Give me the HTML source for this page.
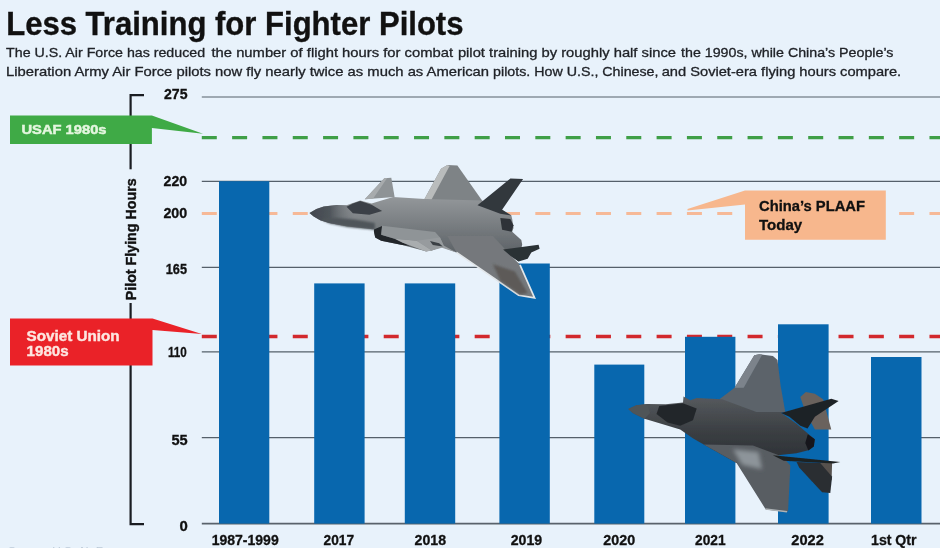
<!DOCTYPE html>
<html><head><meta charset="utf-8"><title>Less Training for Fighter Pilots</title>
<style>
html,body{margin:0;padding:0;background:#e8f2fb;}
body{width:940px;height:548px;overflow:hidden;position:relative;font-family:"Liberation Sans",sans-serif;}
svg{position:absolute;left:0;top:0;display:block}
text{font-family:"Liberation Sans",sans-serif;}
.b{font-weight:bold}
</style></head><body>
<svg width="940" height="548" viewBox="0 0 940 548">
<defs><filter id="soft" x="-5%" y="-5%" width="110%" height="110%"><feGaussianBlur stdDeviation="0.6"/></filter><filter id="soft3" x="-10%" y="-30%" width="120%" height="160%"><feGaussianBlur stdDeviation="0.9"/></filter><filter id="soft2" x="-30%" y="-30%" width="160%" height="160%"><feGaussianBlur stdDeviation="2"/></filter></defs>
<rect width="940" height="548" fill="#e8f2fb"/>
<!-- title -->
<text x="6.2" y="34.6" class="b" font-size="32.5" fill="#111" stroke="#111" stroke-width="0.35" textLength="457.3" lengthAdjust="spacingAndGlyphs">Less Training for Fighter Pilots</text>
<g font-size="13.4" fill="#202328" stroke="#202328" stroke-width="0.3">
<text x="6.1" y="57.2" textLength="199" lengthAdjust="spacingAndGlyphs">The U.S. Air Force has reduced</text>
<text x="211.5" y="57.2" textLength="241.5" lengthAdjust="spacingAndGlyphs">the number of flight hours for combat</text>
<text x="457.9" y="57.2" textLength="218.1" lengthAdjust="spacingAndGlyphs">pilot training by roughly half since</text>
<text x="681.0" y="57.2" textLength="212.5" lengthAdjust="spacingAndGlyphs">the 1990s, while China’s People’s</text>
<text x="6.1" y="76.4" textLength="483" lengthAdjust="spacingAndGlyphs">Liberation Army Air Force pilots now fly nearly twice as much as American</text>
<text x="493.1" y="76.4" textLength="165.4" lengthAdjust="spacingAndGlyphs">pilots. How U.S., Chinese,</text>
<text x="661.7" y="76.4" textLength="239.5" lengthAdjust="spacingAndGlyphs">and Soviet-era flying hours compare.</text>
</g>

<!-- gridlines -->
<g stroke="#55606a" stroke-width="1.2">
<line x1="201.8" y1="97" x2="940" y2="97"/>
<line x1="201.8" y1="181.3" x2="940" y2="181.3"/>
<line x1="201.8" y1="267.3" x2="940" y2="267.3"/>
<line x1="201.8" y1="351.9" x2="940" y2="351.9"/>
<line x1="201.8" y1="437.6" x2="940" y2="437.6"/>
</g>
<line x1="201.8" y1="523.6" x2="940" y2="523.6" stroke="#59626b" stroke-width="1.8"/>
<!-- y labels -->
<g class="b" font-size="14" fill="#111" stroke="#111" stroke-width="0.3">
<text x="164" y="99.4" textLength="23.5" lengthAdjust="spacingAndGlyphs">275</text>
<text x="163.6" y="186.2" textLength="23.5" lengthAdjust="spacingAndGlyphs">220</text>
<text x="163.4" y="218.2" textLength="23.8" lengthAdjust="spacingAndGlyphs">200</text>
<text x="165.8" y="274.4" textLength="21.2" lengthAdjust="spacingAndGlyphs">165</text>
<text x="167.9" y="357.2" textLength="18.8" lengthAdjust="spacingAndGlyphs">110</text>
<text x="171.5" y="445" textLength="16.2" lengthAdjust="spacingAndGlyphs">55</text>
<text x="179.5" y="530.5" textLength="8.3" lengthAdjust="spacingAndGlyphs">0</text>
</g>
<!-- orange + red dashed (behind bars) -->
<line x1="201.8" y1="213.5" x2="940" y2="213.5" stroke="#f6b997" stroke-width="3.2" stroke-dasharray="15 15.32"/>
<line x1="201.8" y1="336.5" x2="940" y2="336.5" stroke="#d2292d" stroke-width="3.6" stroke-dasharray="15 15.32"/>
<!-- bars -->
<g fill="#0867ae">
<rect x="219" y="181.2" width="50.3" height="342.4"/>
<rect x="314.2" y="283.4" width="50.4" height="240.2"/>
<rect x="404.8" y="283.4" width="50.4" height="240.2"/>
<rect x="499.4" y="263.5" width="50.4" height="260.1"/>
<rect x="594.3" y="364.6" width="50" height="159.0"/>
<rect x="685" y="336.8" width="50.4" height="186.8"/>
<rect x="778" y="324.3" width="50.6" height="199.3"/>
<rect x="871" y="357" width="50.5" height="166.6"/>
</g>
<!-- green dashed -->
<line x1="201.8" y1="137.6" x2="940" y2="137.6" stroke="#3f9f47" stroke-width="3.4" stroke-dasharray="15 15.32"/>
<!-- axis bracket -->
<path d="M144 95.2 H130.6 V524.2 H144" fill="none" stroke="#1a1d22" stroke-width="2.2"/>
<rect x="120" y="169.3" width="24" height="133.7" fill="#e8f2fb"/>
<text transform="translate(135.8,300.3) rotate(-90)" class="b" font-size="14" fill="#111" stroke="#111" stroke-width="0.4" textLength="122" lengthAdjust="spacingAndGlyphs">Pilot Flying Hours</text>
<!-- green label -->
<path d="M10 115.5 H151.9 L203 133.7 L151.9 128 V143.9 H10 Z" fill="#3faa46"/>
<text x="21.5" y="134" class="b" font-size="13.5" fill="#e4f6df" stroke="#e4f6df" stroke-width="0.5" textLength="85" lengthAdjust="spacingAndGlyphs">USAF 1980s</text>
<!-- red label -->
<path d="M10 318.5 H152.5 L201.8 333.9 L152.5 330 V365.6 H10 Z" fill="#ea2228"/>
<text x="26.6" y="340.5" class="b" font-size="14.2" fill="#fde6e0" stroke="#fde6e0" stroke-width="0.4" textLength="93" lengthAdjust="spacingAndGlyphs">Soviet Union</text>
<text x="26.6" y="355.6" class="b" font-size="14.2" fill="#fde6e0" stroke="#fde6e0" stroke-width="0.4" textLength="42" lengthAdjust="spacingAndGlyphs">1980s</text>
<!-- orange label -->
<path d="M745 190.5 H885.8 V239.8 H745 V204.6 L687.5 210.4 V209 Z" fill="#f7b78d"/>
<text x="759" y="211.2" class="b" font-size="14.5" fill="#111" stroke="#111" stroke-width="0.3" textLength="106" lengthAdjust="spacingAndGlyphs">China’s PLAAF</text>
<text x="759" y="230" class="b" font-size="14.5" fill="#111" stroke="#111" stroke-width="0.3" textLength="43.2" lengthAdjust="spacingAndGlyphs">Today</text>
<!-- x labels -->
<g class="b" font-size="14" fill="#111" stroke="#111" stroke-width="0.3" text-anchor="middle">
<text x="245.2" y="545.2" textLength="67" lengthAdjust="spacingAndGlyphs">1987-1999</text>
<text x="338.8" y="545.2" textLength="30.5" lengthAdjust="spacingAndGlyphs">2017</text>
<text x="430.3" y="545.2" textLength="31.5" lengthAdjust="spacingAndGlyphs">2018</text>
<text x="526.4" y="545.2" textLength="31.5" lengthAdjust="spacingAndGlyphs">2019</text>
<text x="619.2" y="545.2" textLength="31.8" lengthAdjust="spacingAndGlyphs">2020</text>
<text x="710.3" y="545.2" textLength="30.5" lengthAdjust="spacingAndGlyphs">2021</text>
<text x="807.6" y="545.2" textLength="32.5" lengthAdjust="spacingAndGlyphs">2022</text>
<text x="893.8" y="545.2" textLength="45.5" lengthAdjust="spacingAndGlyphs">1st Qtr</text>
</g>
<text x="8" y="555" font-size="11" fill="#bccad8" textLength="118" lengthAdjust="spacingAndGlyphs">Source: U.S. Air Force</text>
<!-- planes -->
<g filter="url(#soft)">
<defs><linearGradient id="jb" x1="0" y1="0" x2="0" y2="1"><stop offset="0" stop-color="#93979a"/><stop offset="0.55" stop-color="#71767a"/><stop offset="1" stop-color="#555a5f"/></linearGradient><linearGradient id="jn" x1="0" y1="0" x2="1" y2="0"><stop offset="0" stop-color="#40464d"/><stop offset="0.45" stop-color="#4f555b"/><stop offset="1" stop-color="#6f7478" stop-opacity="0"/></linearGradient><linearGradient id="fb" x1="0" y1="0" x2="0" y2="1"><stop offset="0" stop-color="#565a5e"/><stop offset="0.5" stop-color="#3c4044"/><stop offset="1" stop-color="#2c2f33"/></linearGradient></defs>
<polygon points="364.8,199.2 384.3,178.3 391.3,177.7 394.6,197.1" fill="#8e9396" />
<polygon points="364.8,199.2 384.3,178.3 387.2,178.1 373.0,198.7" fill="#a7abad" />
<polygon points="424.6,198.8 441.0,168.7 447.4,165.0 457.4,165.6 482.1,200.6 474.8,207.9 424.6,207.9" fill="#7e8386" />
<polygon points="424.6,198.8 441.0,168.7 447.4,165.0 449.6,166.0 431.3,199.9" fill="#b9bcbc" />
<polygon points="309.5,212.9 316.4,208.9 323.7,206.5 336.5,205.1 346.5,205.3 352.9,203.1 360.2,200.5 371.6,203.4 393.1,197.1 424.7,198.9 482.1,200.6 502.1,209.8 511.3,215.2 512.2,218.9 513.5,228.0 512.2,231.7 521.3,239.9 522.2,244.4 518.6,261.5 511.3,256.0 456.5,252.4 441.9,246.9 431.4,250.4 425.9,251.3 402.2,244.9 381.2,240.7 375.2,237.6 373.9,231.6 374.8,229.4 347.5,226.6 329.2,223.0 320.1,220.2 313.7,216.6" fill="url(#jb)" />
<polygon points="309.5,212.9 316.4,208.9 323.7,206.5 336.5,205.1 346.5,205.3 354.8,214.8 347.5,226.6 329.2,223.0 320.1,220.2 313.7,216.6" fill="url(#jn)" />
<polygon points="320.1,218.8 336.5,218.0 354.8,219.5 374.8,223.0 374.8,229.7 347.5,227.0 329.2,223.3" fill="#4f555a" filter="url(#soft3)"/>
<polygon points="346.5,206.7 352.9,203.4 360.2,201.1 371.6,204.7 382.1,211.1 369.4,214.8 352.9,213.3" fill="#3b4046" />
<polygon points="477.5,205.2 510.4,178.4 523.1,179.1 502.1,209.8 511.3,215.6 500.3,213.8" fill="#33383e" />
<polygon points="373.9,229.4 382.1,226.1 381.2,234.8 394.9,238.9 409.5,245.8 402.2,245.1 381.2,240.7 375.2,237.6 373.9,231.6" fill="#22262b" />
<polygon points="382.1,225.7 435.1,232.1 440.0,237.6 443.7,245.4 431.8,250.4 425.9,251.4 416.8,240.7 394.9,238.7 381.2,234.8" fill="#8f9497" />
<polygon points="394.9,238.7 416.8,240.7 431.8,250.4 425.9,251.4 402.2,242.5" fill="#a9adaf" />
<polygon points="416.8,240.7 440.0,237.6 443.7,245.4 456.5,252.4 441.9,247.8 431.8,250.4" fill="#979b9e" />
<polygon points="430.0,241.1 439.2,243.3 442.8,246.5 432.8,245.1" fill="#3a3f44" />
<polygon points="456.5,252.4 518.6,295.3 534.1,297.6 519.5,264.2 511.3,256.0 493.0,236.0 447.4,236.0" fill="#74787b" />
<polyline points="456.5,252.4 518.6,295.3 534.6,297.8 520.0,264.8" fill="none" stroke="#e2e6e9" stroke-width="1.7"/>
<polygon points="493.0,264.2 514.9,271.5 527.7,292.9 520.0,294.4 500.3,280.7" fill="#5d5a58" filter="url(#soft3)"/>
<polygon points="500.3,218.0 510.4,218.9 513.5,225.3 511.6,231.7 502.1,229.8" fill="#2f3338" />
<polygon points="503.1,249.6 538.6,244.7 539.6,248.7 531.3,252.4 527.7,258.8 518.6,261.5 511.3,256.4" fill="#2b3035" />
<polygon points="800.3,396.9 805.8,392.0 814.9,393.8 823.1,399.3 831.3,429.4 814.9,429.4 805.8,413.0" fill="#6a625d" />
<polygon points="720.0,398.8 734.6,387.8 754.3,355.3 759.2,354.2 772.9,356.1 777.5,360.1 780.6,385.6 785.3,412.1 756.5,413.0 720.0,409.4" fill="#5b636b" />
<polygon points="734.6,387.8 754.3,355.3 759.2,354.2 762.3,354.6 743.7,387.8" fill="#7b838b" />
<polygon points="628.2,409.0 636.4,405.3 647.4,403.9 665.6,404.3 683.0,402.4 683.5,396.6 690.3,400.2 696.7,398.0 722.2,399.3 756.5,412.1 785.3,412.1 781.0,412.8 796.5,423.7 809.3,434.7 814.8,439.2 813.8,446.5 808.4,450.2 796.5,453.3 772.8,455.7 774.9,455.6 736.6,462.9 703.7,444.6 692.8,438.3 680.2,429.4 662.0,424.0 643.7,418.5 632.8,413.0" fill="url(#fb)" />
<polygon points="628.2,409.0 636.4,405.3 647.4,403.9 650.1,413.0 644.6,418.7 632.8,413.0" fill="#505458" />
<polygon points="659.2,406.1 683.0,403.2 696.7,408.6 693.0,420.3 680.2,425.8 667.5,422.5 656.5,413.9" fill="#24272b" />
<polygon points="781.1,413.0 831.3,398.8 838.6,401.1 814.9,416.7 807.6,428.5 800.3,425.8 789.4,416.7" fill="#1f2226" />
<polygon points="807.8,434.3 814.8,439.2 813.8,446.5 808.4,450.6 805.3,442.9" fill="#15181b" />
<polygon points="703.7,444.6 736.6,462.9 765.8,509.4 786.8,512.2 788.1,510.4 790.4,465.6 782.2,456.5 753.0,445.6" fill="#585d62" />
<polygon points="732.9,449.2 758.5,451.9 762.1,469.3 742.1,464.7" fill="#8d949a" filter="url(#soft2)"/>
<polygon points="765.4,508.3 787.3,510.9 786.8,512.5 765.8,509.8" fill="#aeb3b6" />
<polygon points="814.8,463.0 832.1,463.0 831.6,480.3 823.9,473.0" fill="#56514e" />
<polygon points="796.5,462.1 820.2,463.0 832.1,476.7 830.3,493.1 822.1,492.2 809.3,478.5 799.2,467.5" fill="#2b2e32" />
<polygon points="772.8,455.3 840.3,462.1 833.0,463.5 783.7,460.8" fill="#1d2023" />
</g>
</svg>
</body></html>
